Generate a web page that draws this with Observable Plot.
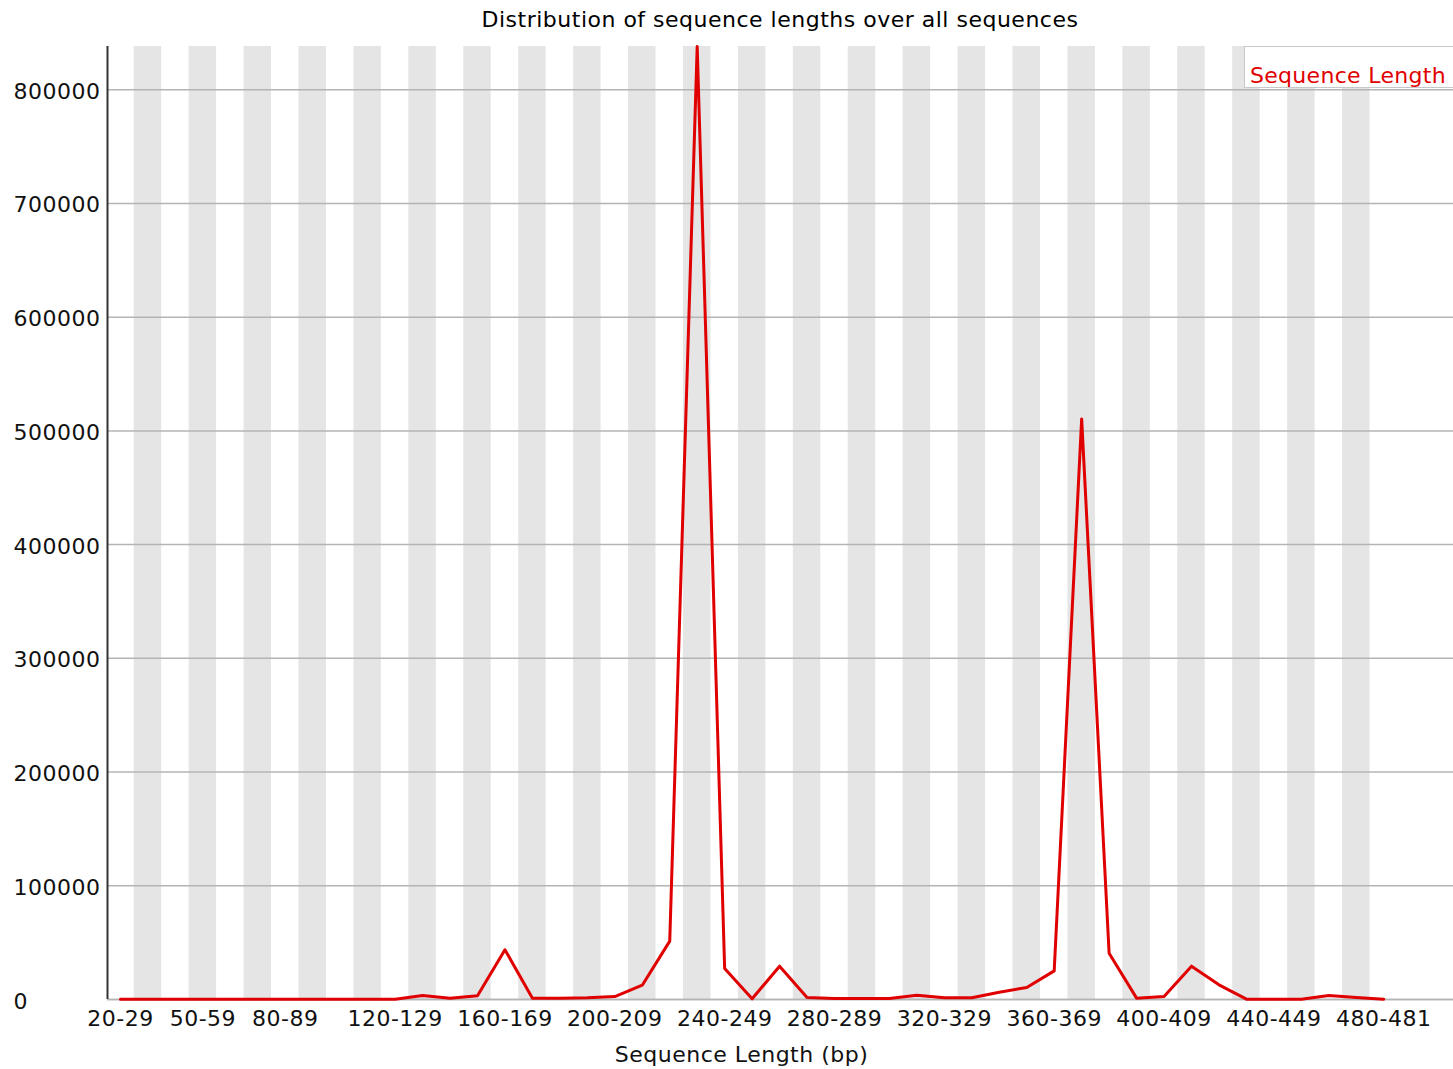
<!DOCTYPE html>
<html><head><meta charset="utf-8">
<script src="https://cdn.jsdelivr.net/npm/d3@7"></script>
<script src="https://cdn.jsdelivr.net/npm/@observablehq/plot@0.6"></script>
<style>
body{margin:0;background:#fff;font-family:"DejaVu Sans",sans-serif;}
#wrap{position:relative;width:1453px;height:1069px;overflow:hidden;}
#title{height:36px;padding-left:107px;text-align:center;font-size:22px;letter-spacing:0.5px;line-height:40px;color:#000;}
#legend{position:absolute;left:1244px;top:46px;width:209px;height:42px;box-sizing:border-box;border:1px solid #c8c8c8;border-right:none;background:#fff;color:#e00000;font-size:22px;letter-spacing:0.3px;line-height:24px;padding-top:17px;padding-left:5px;white-space:nowrap;}
svg{display:block;}
</style>
</head><body>
<div id="wrap">
<div id="title">Distribution of sequence lengths over all sequences</div>
<div id="chart"></div>
<div id="legend">Sequence Length</div>
</div>
<script>
const categories = ["20-29","30-39","40-49","50-59","60-69","70-79","80-89","90-99","100-109","110-119",
  "120-129","130-139","140-149","150-159","160-169","170-179","180-189","190-199","200-209","210-219",
  "220-229","230-239","240-249","250-259","260-269","270-279","280-289","290-299","300-309","310-319",
  "320-329","330-339","340-349","350-359","360-369","370-379","380-389","390-399","400-409","410-419",
  "420-429","430-439","440-449","450-459","460-469","470-479","480-481"];
const counts = [200,200,200,200,200,200,200,200,200,200,
  300,3500,1200,3300,43700,1200,1200,1500,2600,12600,
  51300,838000,27300,600,29300,1800,900,900,900,3800,
  1500,1500,6400,10600,25200,510500,40700,1200,2600,29300,
  12900,300,300,300,3500,1800,300];
const xTickLabels = ["20-29","50-59","80-89","120-129","160-169","200-209","240-249","280-289","320-329","360-369","400-409","440-449","480-481"];
const yTicks = [0,100000,200000,300000,400000,500000,600000,700000,800000];
const seriesName = "Sequence Length";

const data = categories.map((c, i) => ({i, c, v: counts[i]}));
const stripes = data.filter(d => d.i % 2 === 1);
const yMax = d3.max(counts);
const xDomain = [-0.473, categories.length + 1.54];

const chart = Plot.plot({
  width: 1453,
  height: 1033,
  marginTop: 10,
  marginBottom: 70,
  marginLeft: 107,
  marginRight: 0,
  style: {fontFamily: "DejaVu Sans, sans-serif", fontSize: "22px", color: "#000", background: "#fff", letterSpacing: "0.5px"},
  x: {type: "linear", domain: xDomain},
  y: {type: "linear", domain: [0, yMax]},
  marks: [
    Plot.rect(stripes, {x1: d => d.i - 0.5, x2: d => d.i + 0.5, y1: 0, y2: yMax, fill: "#e5e5e5"}),
    Plot.gridY(yTicks, {stroke: "#b4b4b4", strokeOpacity: 1, strokeWidth: 1.5}),
    Plot.axisY(yTicks, {tickSize: 0, tickPadding: 0, textAnchor: "start", dx: -94, dy: 2, label: null, tickFormat: d => String(d), fontSize: 22, fill: "#111"}),
    Plot.axisX(xTickLabels.map(l => categories.indexOf(l)), {tickSize: 0, tickPadding: 11, label: null, tickFormat: i => categories[i], fontSize: 22, fill: "#111"}),
    Plot.ruleY([0], {stroke: "#b4b4b4", strokeWidth: 1.5}),
    Plot.ruleX([xDomain[0]], {stroke: "#333", strokeWidth: 2}),
    Plot.text([seriesName + " (bp)"], {frameAnchor: "bottom", dx: -39, dy: 62, fontSize: 22, fill: "#111"}),
    Plot.line(data, {x: "i", y: "v", stroke: "#e00000", strokeWidth: 3, strokeLinejoin: "round"})
  ]
});
document.getElementById("chart").appendChild(chart);
</script>
</body></html>
